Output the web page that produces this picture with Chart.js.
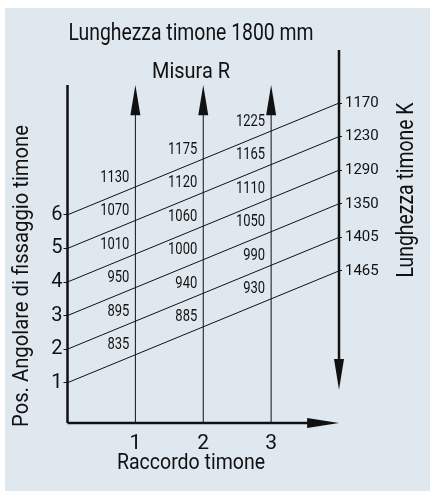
<!DOCTYPE html>
<html>
<head>
<meta charset="utf-8">
<script src="https://cdn.jsdelivr.net/npm/chart.js@4.4.0/dist/chart.umd.min.js"></script>
<style>
  html, body { margin: 0; padding: 0; background: #fff; }
  canvas { display: block; }
</style>
</head>
<body>
<canvas id="chartTimone" width="430" height="491"></canvas>
<script>
// Dati
const posAngolare = [1, 2, 3, 4, 5, 6];                 // partenza linee (asse sinistro)
const fineLinea = [4.33, 5.33, 6.33, 7.33, 8.33, 9.33];   // arrivo linee (asse destro)
const lunghezzaK = [1465, 1405, 1350, 1290, 1230, 1170];
const raccordo = [1, 2, 3];
const misuraR1 = [835, 895, 950, 1010, 1070, 1130];
const misuraR2 = [885, 940, 1000, 1060, 1120, 1175];
const misuraR3 = [930, 990, 1050, 1110, 1165, 1225];

const FONT = 'Roboto, "Liberation Sans", sans-serif';
const NERO = "#111";
const SFONDO = "#e0e8ef";

const Y_MIN = -0.2, Y_MAX = 11, X_MAX = 4;
const FRECCIA_SU = 9.87, BASE_FRECCIA_SU = 8.97;

const datasets = [];

// Linee inclinate
posAngolare.forEach((p, i) => {
  datasets.push({
    data: [{ x: 0, y: p }, { x: X_MAX, y: fineLinea[i] }],
    borderWidth: 1,
  });
});

// Aste verticali con freccia (raccordo 1, 2, 3)
raccordo.forEach((r) => {
  datasets.push({
    data: [{ x: r, y: Y_MIN }, { x: r, y: BASE_FRECCIA_SU + 0.2 }],
    borderWidth: 1,
  });
});

// Assi disegnati come linee
datasets.push({ data: [{ x: 0, y: Y_MIN }, { x: 0, y: FRECCIA_SU }], borderWidth: 2.5 });
datasets.push({ data: [{ x: X_MAX, y: 10.91 }, { x: X_MAX, y: 1.6 }], borderWidth: 2.5 });
datasets.push({ data: [{ x: 0, y: Y_MIN }, { x: 3.6, y: Y_MIN }], borderWidth: 2.5 });

datasets.forEach((d) => {
  d.showLine = true;
  d.borderColor = NERO;
  d.pointRadius = 0;
  d.clip = false;
});

function freccia(ctx, tx, ty, bx, by, half) {
  const dx = tx - bx, dy = ty - by;
  const len = Math.hypot(dx, dy);
  const nx = -dy / len, ny = dx / len;
  ctx.beginPath();
  ctx.moveTo(tx, ty);
  ctx.lineTo(bx + nx * half, by + ny * half);
  ctx.lineTo(bx - nx * half, by - ny * half);
  ctx.closePath();
  ctx.fill();
}

function testo(ctx, t, x, y, size, w, rot) {
  ctx.save();
  ctx.translate(x, y);
  if (rot) ctx.rotate(rot);
  ctx.font = `${size}px ${FONT}`;
  ctx.fillStyle = NERO;
  ctx.textAlign = "center";
  ctx.textBaseline = "middle";
  ctx.fillText(t, 0, 0, w);
  ctx.restore();
}

const disegno = {
  id: "disegno",
  beforeDraw(chart) {
    const ctx = chart.ctx;
    ctx.save();
    ctx.fillStyle = "#fff";
    ctx.fillRect(0, 0, chart.width, chart.height);
    ctx.fillStyle = SFONDO;
    ctx.fillRect(5, 8, chart.width - 5, chart.height - 8);
    ctx.restore();
  },
  afterDatasetsDraw(chart) {
    const { ctx, scales } = chart;
    const x = scales.x, y = scales.y;
    ctx.save();
    ctx.fillStyle = NERO;

    // frecce verso l'alto
    raccordo.forEach((r) => {
      freccia(ctx, x.getPixelForValue(r), y.getPixelForValue(FRECCIA_SU),
        x.getPixelForValue(r), y.getPixelForValue(BASE_FRECCIA_SU), 5);
    });
    // freccia asse destro verso il basso
    freccia(ctx, x.getPixelForValue(X_MAX), y.getPixelForValue(0.79),
      x.getPixelForValue(X_MAX), y.getPixelForValue(1.71), 5);
    // freccia asse orizzontale
    freccia(ctx, x.getPixelForValue(X_MAX), y.getPixelForValue(Y_MIN),
      x.getPixelForValue(3.53), y.getPixelForValue(Y_MIN), 5);

    // valori Misura R
    ctx.font = `16px ${FONT}`;
    ctx.textAlign = "right";
    ctx.textBaseline = "middle";
    [misuraR1, misuraR2, misuraR3].forEach((col, c) => {
      const r = raccordo[c];
      col.forEach((v, k) => {
        const pend = (fineLinea[k] - posAngolare[k]) / X_MAX;
        const yy = posAngolare[k] + pend * r + 0.28;
        const s = String(v);
        ctx.fillText(s, x.getPixelForValue(r) - 6, y.getPixelForValue(yy), s.length * 7.3);
      });
    });
    ctx.restore();

    // titoli
    testo(ctx, "Lunghezza timone 1800 mm", 191, 34, 23, 245);
    testo(ctx, "Misura R", 191, 72, 22, 78);
    testo(ctx, "Raccordo timone", 191, 463, 22, 148);
    testo(ctx, "Pos. Angolare di fissaggio timone", 22, 276, 22, 302, -Math.PI / 2);
    testo(ctx, "Lunghezza timone K", 407, 190, 23, 175, -Math.PI / 2);
  },
};

new Chart(document.getElementById("chartTimone"), {
  type: "scatter",
  data: { datasets },
  plugins: [disegno],
  options: {
    responsive: false,
    animation: false,
    layout: { padding: { top: 47, left: 0, right: 0, bottom: 0 } },
    plugins: { legend: { display: false }, tooltip: { enabled: false } },
    scales: {
      x: {
        type: "linear",
        min: 0,
        max: X_MAX,
        afterBuildTicks: (s) => { s.ticks = raccordo.map((v) => ({ value: v })); },
        afterFit: (s) => { s.height = 68; },
        grid: { display: false },
        border: { display: false },
        ticks: { color: NERO, font: { family: FONT, size: 21 }, padding: 0, maxRotation: 0, autoSkip: false },
      },
      y: {
        type: "linear",
        position: "left",
        min: Y_MIN,
        max: Y_MAX,
        afterBuildTicks: (s) => { s.ticks = posAngolare.map((v) => ({ value: v })); },
        afterFit: (s) => { s.width = 67.5; },
        grid: { drawOnChartArea: false, drawTicks: true, tickLength: 4, color: NERO },
        border: { display: false },
        ticks: { color: NERO, font: { family: FONT, size: 20 }, padding: 1, autoSkip: false },
      },
      yK: {
        type: "linear",
        position: "right",
        min: Y_MIN,
        max: Y_MAX,
        afterBuildTicks: (s) => { s.ticks = fineLinea.map((v) => ({ value: v })); },
        afterFit: (s) => { s.width = 91; },
        grid: { drawOnChartArea: false, drawTicks: true, tickLength: 3, color: NERO },
        border: { display: false },
        ticks: {
          color: NERO,
          font: { family: FONT, size: 15 },
          padding: 3,
          autoSkip: false,
          callback: (v, i) => lunghezzaK[i],
        },
      },
    },
  },
});
</script>
</body>
</html>
